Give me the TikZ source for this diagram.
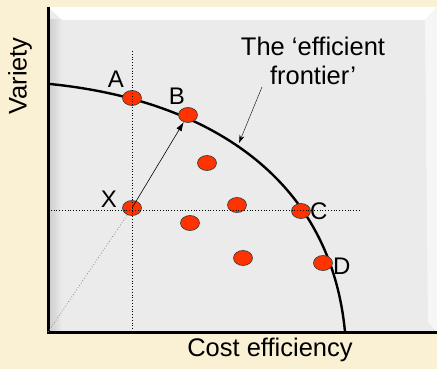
\documentclass[tikz,border=0pt]{standalone}
\usepackage{fontspec}
\setmainfont{Liberation Sans}
\usetikzlibrary{positioning, arrows.meta, shapes.geometric}
\definecolor{cream}{HTML}{FAF0D4}
\definecolor{panelgrey}{HTML}{EBEBEB}
\definecolor{dotred}{HTML}{FF3300}

\begin{document}
\begin{tikzpicture}[x=1pt,y=-1pt,
  dot/.style={ellipse,draw=black!75,line width=0.7pt,fill=dotred,
              minimum width=19pt,minimum height=15pt,inner sep=0pt},
  lbl/.style={font=\fontsize{24}{28}\selectfont,inner sep=1pt},
  txt/.style={font=\fontsize{25.5}{29}\selectfont},
  axis/.style={line width=3pt},
  guide/.style={dotted,line width=0.8pt}]
  \useasboundingbox (0,0) rectangle (437,369);
  \fill[cream] (0,0) rectangle (437,369);
  % panel with bevel
  \fill[panelgrey] (48,7) rectangle (437,332);
  \fill[white] (48,7) -- (437,7) -- (425,20) -- (62,20) -- cycle;
  \fill[white!55!panelgrey] (437,7) -- (437,332) -- (428,322) -- (425,20) -- cycle;
  \shade[left color=black!20,right color=panelgrey] (48,20) rectangle (62,332);
  \coordinate (O) at (48,332);
  \draw[axis] (48,7) -- (O) -- (437,332);
  % axis names
  \node[txt,rotate=90] (vlab) at (20,76) {Variety};
  \node[txt] (hlab) at (270,350) {Cost efficiency};
  % frontier
  \coordinate (f0) at (50,84);
  \coordinate (f1) at (345,332);
  \draw[line width=2.4pt] (f0) .. controls (200,99) and (330,172) .. (f1);
  \node[txt,align=center] (ftxt) at (313,61) {The ‘efficient\\frontier’};
  \coordinate (fa) at (262,87);
  \coordinate (fb) at (239,143);
  \draw[-{Stealth[length=8pt,width=5pt]}] (fa) -- (fb);
  % operations
  \node[dot,label={[lbl,label distance=1pt,yshift=2pt]above left:A}] (A) at (132,98) {};
  \node[dot,label={[lbl,label distance=1pt,xshift=-11pt]above:B}] (B) at (188,115) {};
  \node[dot] (p1) at (207,163) {};
  \node[dot,label={[lbl,label distance=4pt,yshift=9pt]left:X}] (X) at (132,208) {};
  \node[dot] (p2) at (237,205) {};
  \node[dot,label={[lbl,label distance=-2pt]right:C}] (C) at (301,211) {};
  \node[dot] (p3) at (190,223) {};
  \node[dot] (p4) at (243,258) {};
  \node[dot,label={[lbl,label distance=-1pt,yshift=-3pt]right:D}] (D) at (323,263) {};
  % guides
  \coordinate (vtop) at (132,51);
  \coordinate (vbot) at (132,332);
  \coordinate (hl) at (48,210);
  \coordinate (hr) at (360,210);
  \draw[guide] (vtop) -- (vbot);
  \draw[guide] (hl) -- (hr);
  \draw[guide,black!45] (O) -- (X.center);
  \draw[-{Latex[length=9pt,width=6pt]},line width=0.6pt] (X.center) -- (B);
\end{tikzpicture}
\end{document}
